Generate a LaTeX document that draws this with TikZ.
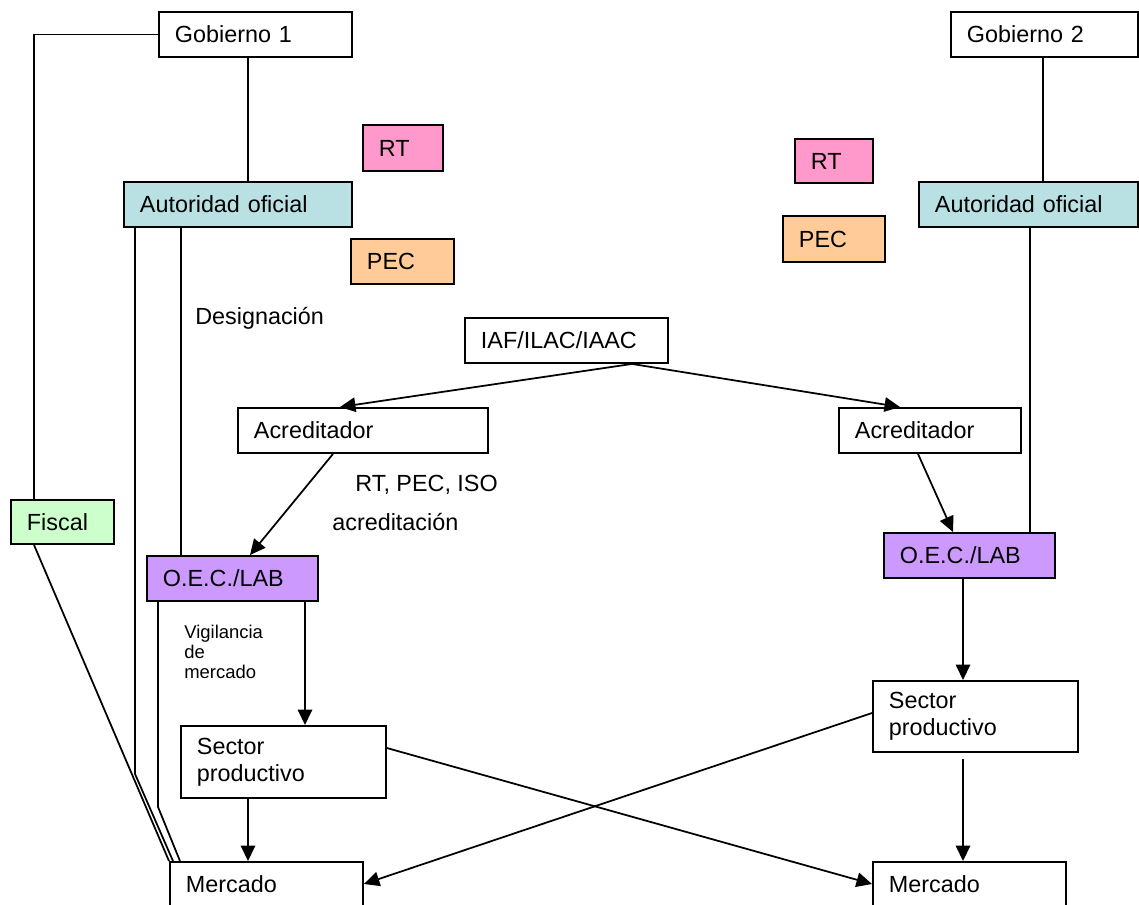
\documentclass[tikz,border=0pt]{standalone}
\usepackage{fontspec}
\setmainfont{Liberation Sans}
\usepackage{xcolor}
\usetikzlibrary{calc,positioning,arrows.meta}
\definecolor{autcolor}{RGB}{185,224,227}
\definecolor{rtcolor}{RGB}{255,153,204}
\definecolor{peccolor}{RGB}{255,204,153}
\definecolor{fiscalcolor}{RGB}{204,255,204}
\definecolor{oeccolor}{RGB}{204,153,255}
\tikzset{
>={Triangle[length=0.31cm,width=0.29cm]},
  conector/.style={draw, line width=1pt},
  flecha/.style={draw, line width=1pt, ->},
}

\begin{document}
\begin{tikzpicture}[x=0.02cm, y=-0.02cm]
  \tikzset{
      caja/.style={rectangle, draw=black, line width=1.1pt, anchor=north west, inner xsep=0.32cm, inner ysep=0pt, align=left, minimum height=0.9cm, font=\fontsize{13.3}{15.5}\selectfont},
      etiqueta/.style={inner sep=0pt, font=\fontsize{13.3}{15.5}\selectfont},
      nota/.style={inner sep=0pt, align=left, font=\fontsize{10.5}{11.4}\selectfont},
  }
  \useasboundingbox (0,0) rectangle (1139,904);
  % izquierda
  \node[caja, text width=3.22cm] (gob1) at (158,11) {Gobierno 1};
  \node[caja, fill=autcolor, text width=3.92cm] (aut1) at (123,181) {Autoridad oficial};
  \node[caja, fill=rtcolor, text width=0.96cm, minimum height=0.92cm] (rt1) at (362,124) {RT};
  \node[caja, fill=peccolor, text width=1.42cm] (pec1) at (350,238) {PEC};
  \node[caja, fill=fiscalcolor, text width=1.42cm, minimum height=0.88cm] (fiscal) at (10,499) {Fiscal};
  \node[caja, text width=4.36cm] (acr1) at (237,407) {Acreditador};
  \node[caja, fill=oeccolor, text width=2.78cm] (oec1) at (146,555) {O.E.C./LAB};
  \node[caja, text width=3.46cm, minimum height=1.44cm] (sec1) at (180,725) {Sector\\productivo};
  \node[caja, text width=3.22cm] (merc1) at (169,861) {Mercado};
  % centro
  \node[caja, text width=3.42cm] (iaf) at (464,317) {IAF/ILAC/IAAC};
  % derecha
  \node[caja, text width=3.10cm] (gob2) at (950,11) {Gobierno 2};
  \node[caja, fill=autcolor, text width=3.74cm] (aut2) at (918,181) {Autoridad oficial};
  \node[caja, fill=rtcolor, text width=0.92cm, minimum height=0.88cm] (rt2) at (794,138) {RT};
  \node[caja, fill=peccolor, text width=1.40cm, minimum height=0.92cm] (pec2) at (782,215) {PEC};
  \node[caja, text width=3.00cm] (acr2) at (838,407) {Acreditador};
  \node[caja, fill=oeccolor, text width=2.78cm] (oec2) at (883,532) {O.E.C./LAB};
  \node[caja, text width=3.46cm, minimum height=1.42cm] (sec2) at (872,680) {Sector\\productivo};
  \node[caja, text width=3.22cm] (merc2) at (872,861) {Mercado};

  % textos sueltos
  \node[etiqueta, anchor=west] (desig) at (195,318) {Designación};
  \node[etiqueta, anchor=west] (rtpec) at (355,485) {RT, PEC, ISO};
  \node[etiqueta, anchor=west] (acred) at (332,522) {acreditación};
  \node[nota, anchor=north west] (vigil) at (184,625) {Vigilancia\\de\\mercado};

  % lineas
  \path[conector] (gob1.west) -| ($(fiscal.north west)+(24,0)$);
  \coordinate (g1) at ($(gob1.south west)+(90,0)$);
  \path[conector] (g1) -- (g1 |- aut1.north);
  \path[conector] ($(aut1.south west)+(12,0)$) -- ++(0,546) -- ($(merc1.north west)+(4,0)$);
  \coordinate (a1) at ($(aut1.south west)+(58,0)$);
  \path[conector] (a1) -- (a1 |- oec1.north);
  \path[conector] ($(oec1.south west)+(12,0)$) -- ++(0,205) -- ($(merc1.north west)+(11,0)$);
  \path[conector] ($(fiscal.south west)+(24,0)$) -- (merc1.north west);
  \coordinate (g2) at ($(gob2.south west)+(93,0)$);
  \path[conector] (g2) -- (g2 |- aut2.north);
  \coordinate (a2) at ($(aut2.south west)+(112,0)$);
  \path[conector] (a2) -- (a2 |- oec2.north);

  % flechas
  \coordinate (iafbase) at ($(iaf.south west)+(168,0)$);
  \path[flecha] (iafbase) -- ($(acr1.north west)+(103,0)$);
  \path[flecha] (iafbase) -- ($(acr2.north west)+(62,0)$);
  \path[flecha] ($(acr1.south west)+(96,0)$) -- ($(oec1.north west)+(104,0)$);
  \path[flecha] ($(acr2.south west)+(80,0)$) -- ($(oec2.north west)+(70,0)$);
  \coordinate (o1) at ($(oec1.south west)+(159,0)$);
  \path[flecha] (o1) -- (o1 |- sec1.north);
  \coordinate (s1) at ($(sec1.south west)+(68,0)$);
  \path[flecha] (s1) -- (s1 |- merc1.north);
  \coordinate (o2) at ($(oec2.south west)+(80,0)$);
  \path[flecha] (o2) -- (o2 |- sec2.north);
  \coordinate (s2) at ($(sec2.south west)+(91,6)$);
  \path[flecha] (s2) -- (s2 |- merc2.north);
  \path[flecha] ($(sec1.north east)+(0,23)$) -- ($(merc2.north west)+(0,23)$);
  \path[flecha] ($(sec2.north west)+(0,33)$) -- ($(merc1.north east)+(0,23)$);

\end{tikzpicture}
\end{document}
